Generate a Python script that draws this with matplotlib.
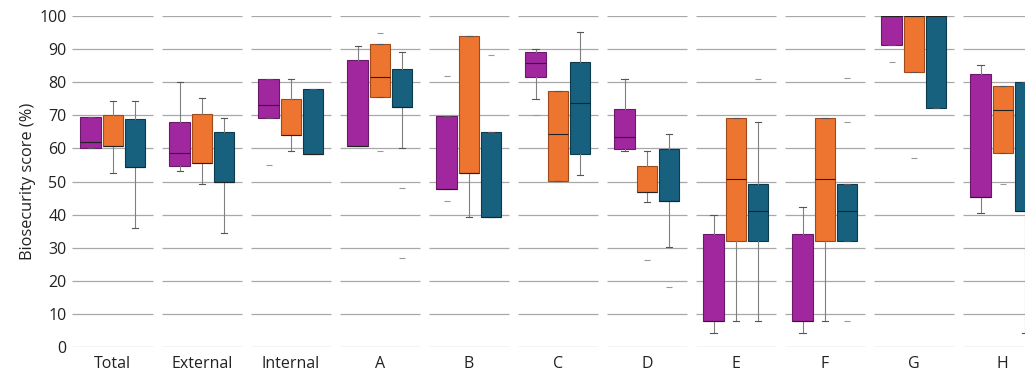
import matplotlib
matplotlib.use("Agg")
import matplotlib.pyplot as plt

plt.rcParams['font.family'] = ['Open Sans', 'DejaVu Sans']

categories = ["Total", "External", "Internal", "A", "B", "C", "D", "E", "F", "G", "H"]

# (whisker low, q1, median, q3, whisker high) per category
purple = [(60, 60, 62, 69.4, 69.4), (53.3, 54.8, 58.5, 68, 80.1), (69.2, 69.2, 73.1, 80.9, 80.9),
          (60.7, 60.7, 60.7, 86.6, 91), (47.7, 47.7, 47.7, 69.8, 69.8), (74.9, 81.6, 85.6, 89, 90),
          (59.2, 59.8, 63.5, 71.8, 80.9), (4.4, 8, 8, 34.1, 39.9), (4.4, 8, 8, 34.1, 42.4),
          (91.2, 91.2, 100, 100, 100), (40.4, 45.2, 45.2, 82.4, 85.1)]
purple_out = [[], [], [55], [], [81.9, 44], [70], [], [], [], [86], []]

orange = [(52.7, 60.7, 60.7, 70, 74.3), (49.2, 55.7, 55.7, 70.4, 75.1), (59.2, 64, 64, 74.8, 80.9),
          (75.6, 75.6, 81.6, 91.5, 91.5), (39.4, 52.7, 52.7, 93.9, 93.9), (50.1, 50.1, 64.2, 77.4, 77.4),
          (43.9, 46.9, 46.9, 54.7, 59.2), (8, 32.1, 50.7, 69.1, 69.1), (8, 32.1, 50.7, 69.1, 69.1),
          (83.1, 83.1, 100, 100, 100), (58.5, 58.5, 71.6, 78.8, 78.8)]
orange_out = [[], [], [], [94.7, 59.2], [], [], [26.3], [], [], [57.2], [49.2]]

blue = [(35.9, 54.3, 54.3, 69, 74.3), (34.4, 49.8, 49.8, 65, 69.2), (58.2, 58.2, 58.2, 77.8, 77.8),
        (60, 72.6, 72.6, 83.8, 89), (39.4, 39.4, 39.4, 65, 65), (52, 58.2, 73.6, 86, 95),
        (30.3, 44, 44, 59.9, 64.2), (8, 32.1, 41.1, 49.2, 68), (32.1, 32.1, 41.1, 49.2, 49.2),
        (72.3, 72.3, 100, 100, 100), (4.4, 41.1, 41.1, 80.1, 80.1)]
blue_out = [[], [], [], [48.1, 27], [88.1], [], [18.1], [81], [68, 8, 81.1], [], []]

series = [(purple, purple_out, "#a0279e", "#6a1a68"),
          (orange, orange_out, "#ee7530", "#9e4a1a"),
          (blue, blue_out, "#17617f", "#0c3a4e")]
offsets = [-0.25, 0, 0.25]

fig = plt.figure(figsize=(10.25, 3.75), dpi=100)
ax = fig.add_axes([72 / 1025, 0.074, 1 - 72 / 1025, 0.884])
xmin, xmax = -0.46, 10.25

# broken horizontal grid, one segment per category
yticks = range(0, 101, 10)
for i in range(len(categories)):
    left = xmin if i == 0 else i - 0.45
    ax.hlines(yticks, left, i + 0.45, color="#a8a8a8", lw=0.9, zorder=0)

for (vals, outs, fc, ec), off in zip(series, offsets):
    stats = []
    for v, o in zip(vals, outs):
        stats.append(dict(whislo=v[0], q1=v[1], med=v[2], q3=v[3], whishi=v[4], fliers=o))
    ax.bxp(stats, positions=[i + off for i in range(len(categories))], widths=0.23,
           capwidths=0.07, patch_artist=True, showfliers=True, manage_ticks=False,
           boxprops=dict(facecolor=fc, edgecolor=ec, lw=0.8),
           medianprops=dict(color="#222222", lw=0.8),
           whiskerprops=dict(color="#808080", lw=0.8),
           capprops=dict(color="#555555", lw=0.8),
           flierprops=dict(marker="_", markersize=5, markeredgecolor="#999999", markeredgewidth=0.8))

ax.set_xlim(xmin, xmax)
ax.set_ylim(0, 100)
ax.set_yticks(list(yticks))
ax.set_xticks(range(len(categories)))
ax.set_xticklabels(categories)
ax.tick_params(length=0, labelsize=11.5, colors="#222222")
ax.tick_params(axis="y", pad=4)
ax.tick_params(axis="x", pad=6)
for s in ax.spines.values():
    s.set_visible(False)
ax.set_ylabel("Biosecurity score (%)", fontsize=11.8, labelpad=2, color="#222222")

fig.savefig("out.png")
